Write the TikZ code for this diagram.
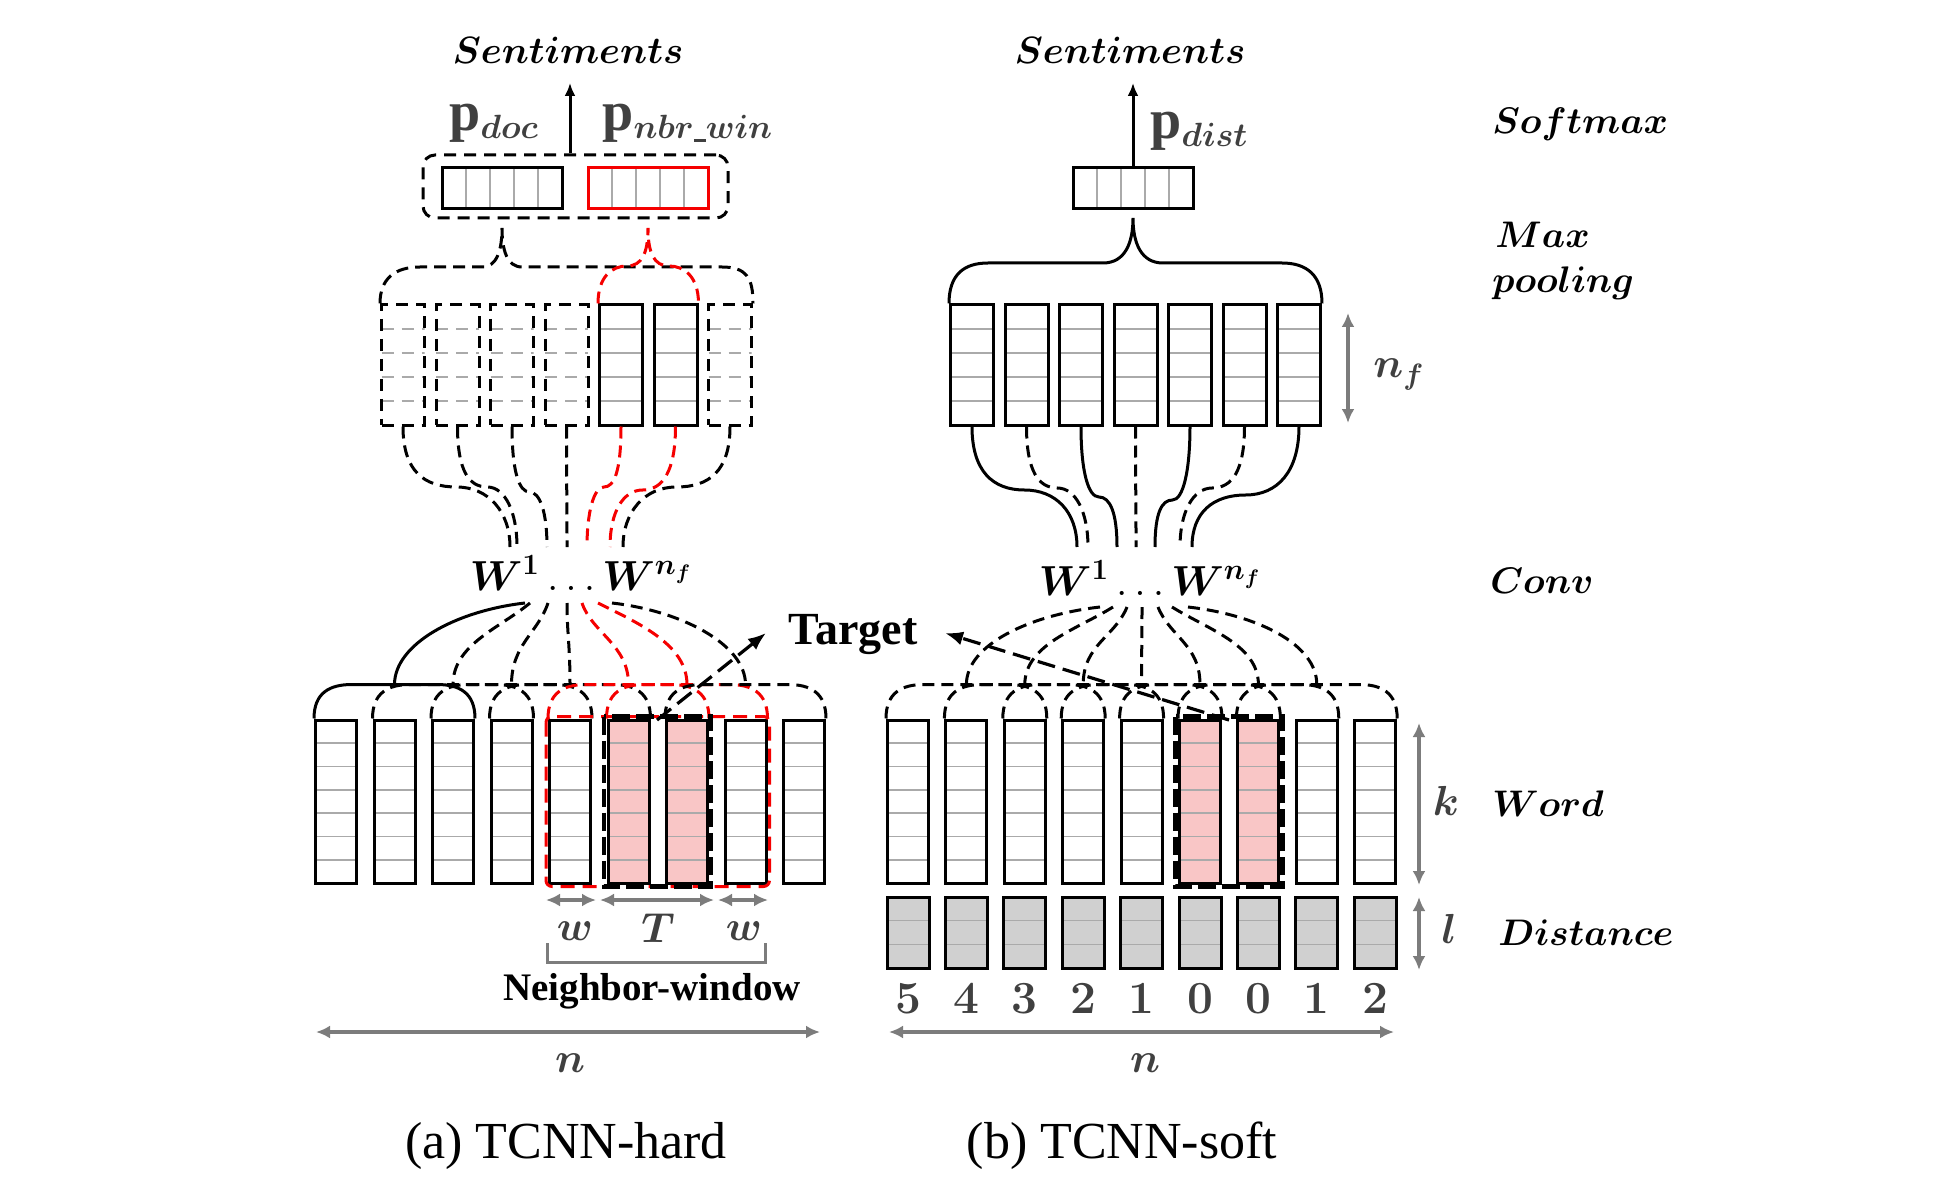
\RequirePackage{fix-cm}
\documentclass[tikz,border=0pt]{standalone}
\usepackage{amsmath}
\usepackage{bm}
\usepackage{fontspec}
\newfontfamily\tnr{Liberation Serif}
\usetikzlibrary{arrows.meta,calc}
\definecolor{dg}{HTML}{404040}
\definecolor{ag}{HTML}{7C7C7C}
\definecolor{cellg}{HTML}{AAAAAA}
\definecolor{pinkf}{RGB}{249,198,198}
\definecolor{distg}{RGB}{208,208,208}
\definecolor{myred}{RGB}{245,0,0}
\tikzset{
  hcells/.style={path picture={%
    \foreach \k in {1,...,#1}{%
      \pgfmathsetmacro\ff{\k/(#1+1)}%
      \draw[cellg,line width=0.8pt] ($(path picture bounding box.north west)!\ff!(path picture bounding box.south west)$) -- ($(path picture bounding box.north east)!\ff!(path picture bounding box.south east)$);}}},
  hcellsd/.style={path picture={%
    \foreach \k in {1,...,#1}{%
      \pgfmathsetmacro\ff{\k/(#1+1)}%
      \draw[cellg,line width=0.8pt,dash pattern=on 6pt off 4pt] ($(path picture bounding box.north west)!\ff!(path picture bounding box.south west)$) -- ($(path picture bounding box.north east)!\ff!(path picture bounding box.south east)$);}}},
  vcells/.style={path picture={%
    \foreach \k in {1,...,#1}{%
      \pgfmathsetmacro\ff{\k/(#1+1)}%
      \draw[cellg,line width=0.8pt] ($(path picture bounding box.north west)!\ff!(path picture bounding box.north east)$) -- ($(path picture bounding box.south west)!\ff!(path picture bounding box.south east)$);}}}
}
\newcommand{\subfs}{\fontsize{24}{26}\selectfont}
\begin{document}
\begin{tikzpicture}[x=0.5pt,y=-0.5pt,
  sl/.style={line width=1.5pt},
  dl/.style={line width=1.5pt,dash pattern=on 6pt off 3.5pt},
  rl/.style={line width=1.5pt,myred,dash pattern=on 6pt off 3.5pt},
  gar/.style={ag,line width=1.6pt,{Latex[length=7pt,width=6.5pt]}-{Latex[length=7pt,width=6.5pt]}},
  blk/.style={line width=1.5pt,-{Latex[length=6.5pt,width=5.5pt]}},
  wordrect/.style={draw,line width=1.5pt,fill=white,minimum width=20.5pt,minimum height=81.5pt,inner sep=0pt,hcells=6},
  targrect/.style={wordrect,fill=pinkf},
  distrect/.style={draw,line width=1.5pt,fill=distg,minimum width=21pt,minimum height=35.5pt,inner sep=0pt,hcells=2},
  poolrect/.style={draw,line width=1.5pt,fill=white,minimum width=21.5pt,minimum height=60pt,inner sep=0pt,hcells=4},
  poolrectd/.style={draw,line width=1.5pt,dash pattern=on 6pt off 4pt,minimum width=21.5pt,minimum height=60pt,inner sep=0pt,hcellsd=4},
  pvec/.style={draw,line width=1.5pt,fill=white,minimum width=60pt,minimum height=20.5pt,inner sep=0pt,vcells=4},
  mlab/.style={inner sep=0pt,anchor=base west,font=\fontsize{18.5}{21}\selectfont},
  glab/.style={inner sep=0pt,anchor=base,text=dg,font=\fontsize{21}{24}\selectfont},
  plab/.style={inner sep=0pt,anchor=base west,text=dg,font=\fontsize{28}{30}\selectfont}
]
\fill[white] (0,0) rectangle (1934,1198);
\useasboundingbox (0,0) rectangle (1934,1198);

% ---------- top: Sentiments, softmax vectors ----------
\node[inner sep=0pt,anchor=base,font=\fontsize{19}{22}\selectfont] (lsent) at (568,64) {$\bm{Sentiments}$};
\node[inner sep=0pt,anchor=base,font=\fontsize{19}{22}\selectfont] (rsent) at (1130,64) {$\bm{Sentiments}$};

\node[pvec] (lpdoc) at (502,188.5) {};
\node[pvec,draw=myred] (lpnbr) at (648,188.5) {};
\node[draw,line width=1.5pt,dash pattern=on 6pt off 4pt,rounded corners=6pt,minimum width=152.5pt,minimum height=31.5pt,inner sep=0pt] (lbox) at (575.5,186.5) {};
\coordinate (ltip) at (570,83);
\draw[blk] (lbox.north -| ltip) -- (ltip);
\node[plab] (lpl) at (449,131) {{\tnr\bfseries p}{\subfs$_{\bm{doc}}$}};
\node[plab] (lnl) at (602,131) {{\tnr\bfseries p}{\subfs$_{\bm{nbr}\rule[-1.8pt]{6pt}{1.2pt}\bm{win}}$}};

\node[pvec] (rpd) at (1133,188) {};
\coordinate (rtip) at (1133,83);
\draw[blk] (rpd.north) -- (rtip);
\node[plab] (rpl) at (1150,139) {{\tnr\bfseries p}{\subfs$_{\bm{dist}}$}};

% ---------- pooling rectangles ----------
\foreach \i in {1,2,3,4,7}{\node[poolrectd] (lp\i) at ({403+54.5*(\i-1)},365) {};}
\foreach \i in {5,6}{\node[poolrect] (lp\i) at ({403+54.5*(\i-1)},365) {};}
\foreach \i in {1,...,7}{\node[poolrect] (rp\i) at ({972+54.5*(\i-1)},365) {};}

% max-pooling braces
\coordinate (lbt) at (502,228);
\draw[dl] (lp1.north west) .. controls +(0,-25) and +(-25,0) .. (420,267) -- (482,267)
  .. controls +(15,0) and +(0,22) .. (lbt) .. controls +(0,22) and +(-15,0) .. (522,267)
  -- (722,267) .. controls +(25,0) and +(0,-25) .. (lp7.north east);
\coordinate (lrt) at (648,228);
\draw[rl] (lp5.north west) .. controls +(0,-27) and +(-15,0) .. (627,266)
  .. controls +(15,0) and +(0,25) .. (lrt) .. controls +(0,25) and +(-15,0) .. (669,266)
  .. controls +(15,0) and +(0,-27) .. (lp6.north east);
\coordinate (rbt) at (1133,218);
\draw[sl] (rp1.north west) .. controls +(0,-28) and +(-25,0) .. (988,263) -- (1103,263)
  .. controls +(22,0) and +(0,25) .. (rbt) .. controls +(0,25) and +(-22,0) .. (1163,263)
  -- (1282,263) .. controls +(25,0) and +(0,-28) .. (rp7.north east);

% ---------- conv labels ----------
\node[inner sep=0pt,anchor=base,font=\fontsize{21}{24}\selectfont] (lW) at (581,590) {$\bm{W^{1}}\ldots\bm{W^{n_f}}$};
\node[inner sep=0pt,anchor=base,font=\fontsize{21}{24}\selectfont] (rW) at (1150,595) {$\bm{W^{1}}\ldots\bm{W^{n_f}}$};

% pooling -> W lines (left)
\foreach \i/\xw/\st/\py in {1/510/dl/487,2/517/dl/487,3/547/dl/492,4/567/dl/490,5/587/rl/487,6/610/rl/490,7/623/dl/487}{
  \pgfmathsetmacro\xp{403+54.5*(\i-1)}
  \pgfmathsetmacro\xm{(\xp+\xw)/2}
  \pgfmathsetmacro\s{0.3*(\xw-\xp)}
  \pgfmathsetmacro\ms{-\s}
  \coordinate (lWt\i) at (\xw,547);
  \draw[\st] (lp\i.south) .. controls +(0,45) and +(\ms,0) .. (\xm,\py) .. controls +(\s,0) and +(0,-35) .. (lWt\i);
}
% pooling -> W lines (right)
\foreach \i/\xw/\st/\py in {1/1077/sl/490,2/1088/dl/488,3/1117/sl/497,4/1136/dl/490,5/1155/sl/500,6/1180/dl/488,7/1192/sl/495}{
  \pgfmathsetmacro\xp{972+54.5*(\i-1)}
  \pgfmathsetmacro\xm{(\xp+\xw)/2}
  \pgfmathsetmacro\s{0.3*(\xw-\xp)}
  \pgfmathsetmacro\ms{-\s}
  \coordinate (rWt\i) at (\xw,547);
  \draw[\st] (rp\i.south) .. controls +(0,45) and +(\ms,0) .. (\xm,\py) .. controls +(\s,0) and +(0,-35) .. (rWt\i);
}

% ---------- word rectangles ----------
\foreach \i in {1,2,3,4,5,8,9}{\node[wordrect] (lw\i) at ({336+58.5*(\i-1)},801.5) {};}
\foreach \i in {6,7}{\node[targrect] (lw\i) at ({336+58.5*(\i-1)},801.5) {};}
\foreach \i in {1,2,3,4,5,8,9}{\node[wordrect] (rw\i) at ({908+58.4*(\i-1)},801.5) {};}
\foreach \i in {6,7}{\node[targrect] (rw\i) at ({908+58.4*(\i-1)},801.5) {};}
\foreach \i in {1,...,9}{\node[distrect] (rd\i) at ({908+58.4*(\i-1)},932.5) {};}

% conv windows (left)
\foreach \i/\st in {1/sl,2/dl,3/dl,4/dl,5/rl,6/rl,7/dl}{
  \pgfmathtruncatemacro\j{\i+2}
  \draw[\st] (lw\i.north west) .. controls +(0,-26) and +(-22,0) .. ([xshift=19pt,yshift=17pt]lw\i.north west)
    -- ([xshift=-19pt,yshift=17pt]lw\j.north east) .. controls +(22,0) and +(0,-26) .. (lw\j.north east);
}
\foreach \i/\st/\x/\cx/\cy in {1/sl/525/-70/8,2/dl/530/-30/25,3/dl/548/-10/30,4/dl/567/0/30,5/rl/582/10/30,6/rl/598/40/20,7/dl/612/70/8}{
  \pgfmathtruncatemacro\k{\i+1}
  \coordinate (lWb\i) at (\x,603);
  \draw[\st] (lWb\i) .. controls +(\cx,\cy) and +(0,-40) .. ([yshift=17pt]lw\k.north);
}
% conv windows (right)
\foreach \i in {1,...,7}{
  \pgfmathtruncatemacro\j{\i+2}
  \draw[dl] (rw\i.north west) .. controls +(0,-26) and +(-22,0) .. ([xshift=19pt,yshift=17pt]rw\i.north west)
    -- ([xshift=-19pt,yshift=17pt]rw\j.north east) .. controls +(22,0) and +(0,-26) .. (rw\j.north east);
}
\foreach \i/\x/\cx/\cy in {1/1100/-70/8,2/1113/-35/22,3/1127/-12/30,4/1142/0/30,5/1158/12/30,6/1172/35/22,7/1188/70/8}{
  \pgfmathtruncatemacro\k{\i+1}
  \coordinate (rWb\i) at (\x,607);
  \draw[dl] (rWb\i) .. controls +(\cx,\cy) and +(0,-40) .. ([yshift=17pt]rw\k.north);
}

% neighbour window and target frames
\draw[myred,line width=1.5pt,dash pattern=on 7pt off 4pt,rounded corners=3pt]
  ([shift={(-1pt,1pt)}]lw5.north west) rectangle ([shift={(1pt,-1pt)}]lw8.south east);
\draw[line width=2.2pt,dash pattern=on 9pt off 3pt]
  ([shift={(-1.2pt,1pt)}]lw6.north west) rectangle ([shift={(1pt,-1pt)}]lw7.south east);
\draw[line width=2.2pt,dash pattern=on 9pt off 3pt]
  ([shift={(-1.2pt,1pt)}]rw6.north west) rectangle ([shift={(1pt,-1pt)}]rw7.south east);

% Target
\node[inner sep=0pt,anchor=base,font=\tnr\bfseries\fontsize{23}{26}\selectfont] (tgt) at (853,644) {Target};
\coordinate (lgap) at (657,720);
\coordinate (rgap) at (1229,720);
\coordinate (ltg) at (766,633);
\coordinate (rtg) at (945,633);
\draw[line width=1.6pt,dash pattern=on 9pt off 4pt,-{Latex[length=9pt,width=7pt]}] (lgap) -- (ltg);
\draw[line width=1.6pt,dash pattern=on 9pt off 4pt,-{Latex[length=9pt,width=7pt]}] (rgap) -- (rtg);

% w T w arrows and bracket
\coordinate (a1) at (546,900); \coordinate (a2) at (596,900);
\coordinate (a3) at (600,900); \coordinate (a4) at (714,900);
\coordinate (a5) at (718,900); \coordinate (a6) at (768,900);
\draw[gar] (a1) -- (a2);
\draw[gar] (a3) -- (a4);
\draw[gar] (a5) -- (a6);
\node[glab] (lbw1) at (575,940) {$\bm{w}$};
\node[glab] (lbT) at (658,942) {$\bm{T}$};
\node[glab] (lbw2) at (744,940) {$\bm{w}$};
\coordinate (nb1) at (547,943); \coordinate (nb2) at (765,943);
\draw[ag,line width=1.5pt] (nb1) -- ++(0,19) -| (nb2);
\node[inner sep=0pt,anchor=base,font=\tnr\bfseries\fontsize{19.5}{22}\selectfont] (nwin) at (652,1000) {Neighbor-window};

% n arrows
\coordinate (n1) at (316,1032); \coordinate (n2) at (820,1032);
\coordinate (n3) at (889,1032); \coordinate (n4) at (1394,1032);
\draw[gar] (n1) -- (n2);
\draw[gar] (n3) -- (n4);
\node[glab] (lnn) at (570,1072) {$\bm{n}$};
\node[glab] (rnn) at (1145,1072) {$\bm{n}$};

% distance digits
\foreach \i/\d in {1/5,2/4,3/3,4/2,5/1,6/0,7/0,8/1,9/2}{
  \node[inner sep=0pt,anchor=base,text=dg,font=\bfseries\fontsize{23}{26}\selectfont] (dig\i) at ({908+58.4*(\i-1)},1013) {\d};
}

% side dimension arrows
\coordinate (f1) at (1348,313); \coordinate (f2) at (1348,423);
\coordinate (k1) at (1419,723); \coordinate (k2) at (1419,885);
\coordinate (l1) at (1419,897); \coordinate (l2) at (1419,970);
\draw[gar] (f1) -- (f2);
\draw[gar] (k1) -- (k2);
\draw[gar] (l1) -- (l2);
\node[glab,anchor=base west] (nfl) at (1373,378) {$\bm{n_f}$};
\node[glab] (kl) at (1446,815) {$\bm{k}$};
\node[glab] (ll) at (1449,943) {$\bm{l}$};

% layer names
\node[mlab] (softm) at (1492,134) {$\bm{Softmax}$};
\node[mlab] (maxp1) at (1495,248) {$\bm{Max}$};
\node[mlab] (maxp2) at (1492,293) {$\bm{pooling}$};
\node[mlab] (convl) at (1490,593) {$\bm{Conv}$};
\node[mlab] (wordl) at (1492,816) {$\bm{Word}$};
\node[mlab] (distl) at (1498,945) {$\bm{Distance}$};

% captions
\node[inner sep=0pt,anchor=base,font=\tnr\fontsize{26}{30}\selectfont] (capa) at (566,1158) {(a) TCNN-hard};
\node[inner sep=0pt,anchor=base,font=\tnr\fontsize{26}{30}\selectfont] (capb) at (1122,1158) {(b) TCNN-soft};
\end{tikzpicture}
\end{document}
